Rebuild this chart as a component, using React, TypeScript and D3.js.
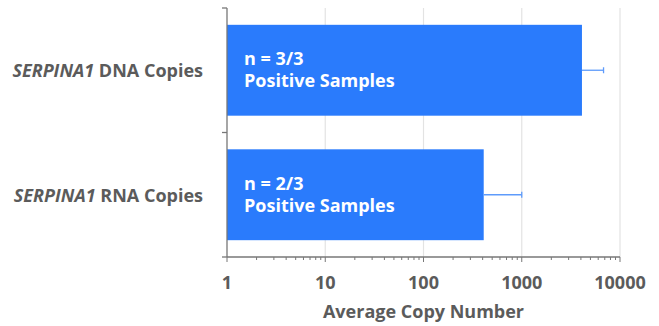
import React from 'react'
import * as d3 from 'd3'

// values
const categories = ['DNA', 'RNA']
const geneNames = ['SERPINA1', 'SERPINA1']
const labelTails = [' DNA Copies', ' RNA Copies']
const meanCopies = [4100, 410]
const errorTop = [6800, 1000]
const positiveCounts = ['n = 3/3', 'n = 2/3']
const tickValues = [1, 10, 100, 1000, 10000]

const W = 659
const H = 326
const margin = { top: 8, right: 39, bottom: 69, left: 227 }

const gray = '#5b5b5b'
const barColor = '#2a7bfc'
const errColor = '#5e9bfb'
const font = '"Open Sans", sans-serif'

export default function App() {
  const x = d3.scaleLog()
    .domain([1, 10000])
    .range([margin.left, W - margin.right])
  const y = d3.scaleBand()
    .domain(categories)
    .range([margin.top, H - margin.bottom])
    .padding(0)
  const inset = y.bandwidth() * 0.135
  const minor = x.ticks()
  const y0 = margin.top
  const y1 = H - margin.bottom

  return (
    <svg width={W} height={H}
      style={{ position: 'absolute', left: 0, top: 0, background: '#fff' }}
      fontFamily={font}>
      {/* grid */}
      {tickValues.slice(1).map(t => (
        <line key={'g' + t} x1={x(t)} x2={x(t)} y1={y0} y2={y1}
          stroke="#e3e3e3" strokeWidth={1.2} />
      ))}

      {/* bars */}
      {categories.map((c, i) => {
        const top = y(c)! + inset
        const h = y.bandwidth() - 2 * inset
        const cy = y(c)! + y.bandwidth() / 2
        return (
          <g key={c}>
            <rect x={x(1)} y={top} width={x(meanCopies[i]) - x(1)} height={h} fill={barColor} />
            <line x1={x(meanCopies[i])} x2={x(errorTop[i])} y1={cy} y2={cy}
              stroke={errColor} strokeWidth={1.3} />
            <line x1={x(errorTop[i])} x2={x(errorTop[i])} y1={cy - 3} y2={cy + 3}
              stroke={errColor} strokeWidth={1.3} />
            <text x={x(1) + 17} y={cy - 5} fill="#fff" fontWeight={700} fontSize={18}>
              {positiveCounts[i]}
            </text>
            <text x={x(1) + 17} y={cy + 17} fill="#fff" fontWeight={700} fontSize={18}>
              Positive Samples
            </text>
            <text x={x(1) - 24} y={cy + 7} textAnchor="end" fill={gray}
              fontWeight={700} fontSize={18}>
              <tspan fontStyle="italic">{geneNames[i]}</tspan>{labelTails[i]}
            </text>
          </g>
        )
      })}

      {/* y axis */}
      <line x1={x(1)} x2={x(1)} y1={y0} y2={y1} stroke="#777" strokeWidth={1.3} />
      {[...categories.map(c => y(c)!), y1].map((v, i) => (
        <line key={'yt' + i} x1={x(1) - 5} x2={x(1)} y1={v} y2={v} stroke="#777" strokeWidth={1.3} />
      ))}

      {/* x axis */}
      <line x1={x(1)} x2={x(10000)} y1={y1} y2={y1} stroke="#777" strokeWidth={1.3} />
      {minor.map((t, i) => (
        <line key={'mt' + i} x1={x(t)} x2={x(t)} y1={y1}
          y2={y1 + (tickValues.includes(t) ? 5 : 3)} stroke="#777" strokeWidth={1} />
      ))}
      {tickValues.map(t => (
        <text key={'tl' + t} x={x(t)} y={y1 + 32} textAnchor="middle" fill={gray}
          fontWeight={700} fontSize={18}>
          {d3.format('d')(t)}
        </text>
      ))}
      <text x={(x(1) + x(10000)) / 2} y={y1 + 61} textAnchor="middle" fill={gray}
        fontWeight={700} fontSize={18}>
        Average Copy Number
      </text>
    </svg>
  )
}
